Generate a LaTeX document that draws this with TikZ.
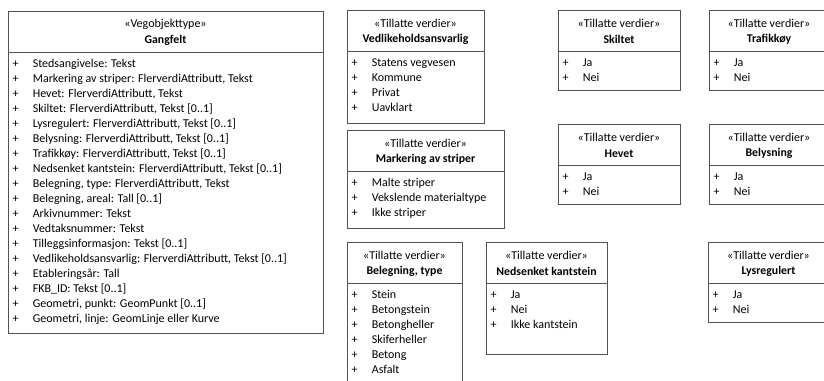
\documentclass[tikz,border=0pt]{standalone}
\usepackage{fontspec}
\setmainfont{Carlito}
\usetikzlibrary{fit}
\tikzset{
  boxst/.style={draw=black!68, line width=0.8pt, inner sep=0pt, fill=white},
  sepst/.style={draw=black!68, line width=0.8pt},
  stereost/.style={font=\fontsize{12}{13}\selectfont, inner sep=0pt},
  titlest/.style={font=\fontsize{11.8}{13}\selectfont\bfseries, inner sep=0pt},
  plusst/.style={font=\fontsize{12}{13}\selectfont, inner sep=0pt},
  rowst/.style={font=\fontsize{12}{13}\selectfont, inner sep=0pt, anchor=west, text height=8pt, text depth=2.5pt}
}
% #1 name, #2 x1, #3 y1, #4 x2, #5 y2, #6 stereotype, #7 title, #8 rows
\newcommand\umlbox[8]{%
  \coordinate (#1-nw) at (#2,#3);
  \coordinate (#1-se) at (#4,#5);
  \node[boxst, fit=(#1-nw)(#1-se)] (#1) {};
  \node[stereost] (#1-st) at ([yshift=-14pt]#1.north) {«#6»};
  \node[titlest] (#1-ti) at ([yshift=-30pt]#1.north) {#7};
  \draw[sepst] ([yshift=-42pt]#1.north west) -- ([yshift=-42pt]#1.north east);
  \foreach \t [count=\i] in {#8} {
    \node[plusst] (#1-p\i) at ([xshift=8pt,yshift={-(54+15*(\i-1))*1pt}]#1.north west) {+};
    \node[rowst] (#1-r\i) at ([xshift=25pt,yshift={-(54+15*(\i-1))*1pt}]#1.north west) {\t};
  }
}
\begin{document}
\begin{tikzpicture}[x=1pt,y=-1pt]
\useasboundingbox[fill=white] (0,0) rectangle (824,380);
\umlbox{gang}{8}{11}{323}{333}{Vegobjekttype}{Gangfelt}{%
  {Stedsangivelse: Tekst},
  {Markering av striper: FlerverdiAttributt, Tekst},
  {Hevet: FlerverdiAttributt, Tekst},
  {Skiltet: FlerverdiAttributt, Tekst [0..1]},
  {Lysregulert: FlerverdiAttributt, Tekst [0..1]},
  {Belysning: FlerverdiAttributt, Tekst [0..1]},
  {Trafikkøy: FlerverdiAttributt, Tekst [0..1]},
  {Nedsenket kantstein: FlerverdiAttributt, Tekst [0..1]},
  {Belegning, type: FlerverdiAttributt, Tekst},
  {Belegning, areal: Tall [0..1]},
  {Arkivnummer: Tekst},
  {Vedtaksnummer: Tekst},
  {Tilleggsinformasjon: Tekst [0..1]},
  {Vedlikeholdsansvarlig: FlerverdiAttributt, Tekst [0..1]},
  {Etableringsår: Tall},
  {FKB\_ID: Tekst [0..1]},
  {Geometri, punkt: GeomPunkt [0..1]},
  {Geometri, linje: GeomLinje eller Kurve}}
\umlbox{vedl}{347}{10}{484}{123}{Tillatte verdier}{Vedlikeholdsansvarlig}{%
  {Statens vegvesen},{Kommune},{Privat},{Uavklart}}
\umlbox{mark}{347}{130}{504}{228}{Tillatte verdier}{Markering av striper}{%
  {Malte striper},{Vekslende materialtype},{Ikke striper}}
\umlbox{bel}{347}{242}{462}{390}{Tillatte verdier}{Belegning, type}{%
  {Stein},{Betongstein},{Betongheller},{Skiferheller},{Betong},{Asfalt}}
\umlbox{ned}{486}{242}{607}{354}{Tillatte verdier}{Nedsenket kantstein}{%
  {Ja},{Nei},{Ikke kantstein}}
\umlbox{skil}{558}{10}{680}{90}{Tillatte verdier}{Skiltet}{{Ja},{Nei}}
\umlbox{traf}{709}{10}{829}{90}{Tillatte verdier}{Trafikkøy}{{Ja},{Nei}}
\umlbox{hev}{558}{124}{680}{204}{Tillatte verdier}{Hevet}{{Ja},{Nei}}
\umlbox{bely}{709}{124}{829}{204}{Tillatte verdier}{Belysning}{{Ja},{Nei}}
\umlbox{lys}{708}{242}{829}{322}{Tillatte verdier}{Lysregulert}{{Ja},{Nei}}
\end{tikzpicture}
\end{document}
